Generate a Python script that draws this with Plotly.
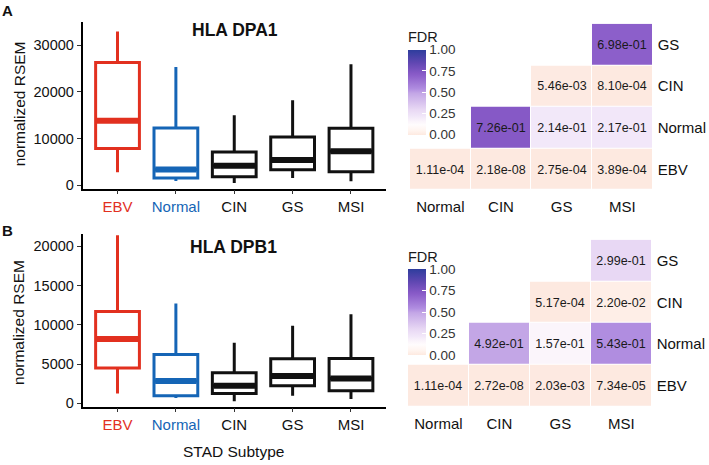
import plotly.graph_objects as go

W, H = 709, 465

# ---------------- data ----------------
subtypes = ["EBV", "Normal", "CIN", "GS", "MSI"]
box_colors = ["#e2301f", "#1565b6", "#111111", "#111111", "#111111"]

# HLA DPA1 box statistics
dpa1_lower = [2800, 900, 500, 1550, 850]
dpa1_q1 = [7850, 1550, 1850, 3300, 2900]
dpa1_median = [13800, 3400, 4200, 5400, 7300]
dpa1_q3 = [26300, 12250, 7150, 10350, 12200]
dpa1_upper = [32900, 25300, 15000, 18200, 25900]

# HLA DPB1 box statistics
dpb1_lower = [1250, 680, 250, 970, 550]
dpb1_q1 = [4500, 970, 1260, 2230, 1600]
dpb1_median = [8200, 2850, 2230, 3490, 3150]
dpb1_q3 = [11700, 6200, 3900, 5670, 5720]
dpb1_upper = [21400, 12700, 7700, 9870, 11340]

# FDR heatmaps
hm_x = ["Normal", "CIN", "GS", "MSI"]
hm_y = ["EBV", "Normal", "CIN", "GS"]
fdr_dpa1 = [
    [1.11e-04, 2.18e-08, 2.75e-04, 3.89e-04],
    [None, 7.26e-01, 2.14e-01, 2.17e-01],
    [None, None, 5.46e-03, 8.10e-04],
    [None, None, None, 6.98e-01],
]
fdr_dpb1 = [
    [1.11e-04, 2.72e-08, 2.03e-03, 7.34e-05],
    [None, 4.92e-01, 1.57e-01, 5.43e-01],
    [None, None, 5.17e-04, 2.20e-02],
    [None, None, None, 2.99e-01],
]

cbar_ticks = [0, 0.25, 0.5, 0.75, 1.0]
cbar_labels = ["0.00", "0.25", "0.50", "0.75", "1.00"]

fdr_scale = [
    [0.0, "#fde9e0"],
    [0.05, "#fff4ef"],
    [0.12, "#fffcfd"],
    [0.157, "#fbf5fb"],
    [0.214, "#f2e8f9"],
    [0.299, "#e8d8f4"],
    [0.492, "#c3a6e6"],
    [0.543, "#b08de0"],
    [0.698, "#8c5fca"],
    [0.726, "#8659c6"],
    [0.85, "#6047b2"],
    [1.0, "#2e3d9d"],
]

FONT = "Liberation Sans, Arial, sans-serif"


def px_x(p):
    return p / W


def px_y(p):
    return (H - p) / H


fig = go.Figure()

BOX_W = 0.75
positions = list(range(1, len(subtypes) + 1))


def add_boxes(lower, q1, med, q3, upper, xa, ya):
    for i, name in enumerate(subtypes):
        c = box_colors[i]
        fig.add_trace(go.Box(
            x=[positions[i]], lowerfence=[lower[i]], q1=[q1[i]], median=[med[i]],
            q3=[q3[i]], upperfence=[upper[i]], width=BOX_W, whiskerwidth=0,
            line=dict(color=c, width=3), fillcolor="rgba(255,255,255,0)",
            boxpoints=False, showlegend=False, hoverinfo="skip",
            xaxis=xa, yaxis=ya, name=name,
        ))
        fig.add_trace(go.Scatter(
            x=[positions[i] - BOX_W / 2 + 0.02, positions[i] + BOX_W / 2 - 0.02],
            y=[med[i], med[i]], mode="lines",
            line=dict(color=c, width=6), showlegend=False, hoverinfo="skip",
            xaxis=xa, yaxis=ya,
        ))


add_boxes(dpa1_lower, dpa1_q1, dpa1_median, dpa1_q3, dpa1_upper, "x", "y")
add_boxes(dpb1_lower, dpb1_q1, dpb1_median, dpb1_q3, dpb1_upper, "x2", "y2")


def fmt_matrix(m):
    return [["" if v is None else f"{v:.2e}" for v in row] for row in m]


def add_heatmap(z, xa, ya, cb_center_px, cb_len_px):
    fig.add_trace(go.Heatmap(
        x=hm_x, y=hm_y, z=z, text=fmt_matrix(z), texttemplate="%{text}",
        textfont=dict(size=12.5, color="#1a1a1a", family=FONT),
        colorscale=fdr_scale, zmin=0, zmax=1, xgap=1, ygap=1,
        hoverinfo="skip", xaxis=xa, yaxis=ya,
        colorbar=dict(
            x=px_x(408), xanchor="left", y=px_y(cb_center_px), yanchor="middle",
            len=cb_len_px / H, lenmode="fraction", thickness=18, thicknessmode="pixels",
            xpad=0, ypad=0, outlinewidth=0,
            tickvals=cbar_ticks, ticktext=cbar_labels,
            ticks="inside", ticklen=4, tickcolor="white", tickwidth=1,
            tickfont=dict(size=13.5, color="#333333", family=FONT),
            title=dict(text="FDR", side="top", font=dict(size=14.5, color="#1a1a1a", family=FONT)),
        ),
    ))


add_heatmap(fdr_dpa1, "x3", "y3", 82.5, 107)
add_heatmap(fdr_dpb1, "x4", "y4", 305.0, 108)

ticktext_box = [f'<span style="color:{c}">{s}</span>' for s, c in zip(subtypes, box_colors)]

box_x_common = dict(
    range=[0.4, 5.6], tickvals=positions, ticktext=ticktext_box,
    showline=True, linecolor="black", linewidth=1.5, ticks="outside", ticklen=4,
    tickcolor="#333", tickwidth=1, showgrid=False, zeroline=False,
    tickfont=dict(size=15, family=FONT, color="#111"),
)
box_y_common = dict(
    showline=True, linecolor="black", linewidth=1.5, ticks="outside", ticklen=4,
    tickcolor="#333", tickwidth=1, showgrid=False, zeroline=False, tickformat="d",
    tickfont=dict(size=14.5, family=FONT, color="#111"),
)
hm_x_common = dict(
    showline=False, ticks="", showgrid=False, zeroline=False, type="category",
    tickfont=dict(size=15, family=FONT, color="#111"), ticklabelstandoff=6,
)
hm_y_common = dict(
    showline=False, ticks="", showgrid=False, zeroline=False, type="category", side="right",
    tickfont=dict(size=15, family=FONT, color="#111"), ticklabelstandoff=4,
)

fig.update_layout(
    width=W, height=H, margin=dict(l=0, r=0, t=0, b=0),
    paper_bgcolor="white", plot_bgcolor="white",
    font=dict(family=FONT, color="#111"),
    xaxis=dict(domain=[px_x(82.5), px_x(386)], anchor="y", **box_x_common),
    yaxis=dict(domain=[px_y(190.7), px_y(22)], anchor="x", range=[-720, 35000],
               tickvals=[0, 10000, 20000, 30000], **box_y_common),
    xaxis2=dict(domain=[px_x(82.5), px_x(386)], anchor="y2", **box_x_common),
    yaxis2=dict(domain=[px_y(411), px_y(236.5)], anchor="x2", range=[-416, 21560],
                tickvals=[0, 5000, 10000, 15000, 20000], **box_y_common),
    xaxis3=dict(domain=[px_x(410), px_x(652.7)], anchor="y3", **hm_x_common),
    yaxis3=dict(domain=[px_y(192.3), px_y(24)], anchor="x3", **hm_y_common),
    xaxis4=dict(domain=[px_x(408), px_x(651.7)], anchor="y4", **hm_x_common),
    yaxis4=dict(domain=[px_y(411), px_y(242.3)], anchor="x4", **hm_y_common),
)

annotations = [
    dict(text="<b>A</b>", x=px_x(7), y=px_y(10.5), font=dict(size=15)),
    dict(text="<b>B</b>", x=px_x(7), y=px_y(233), font=dict(size=15)),
    dict(text="<b>HLA DPA1</b>", x=px_x(235), y=px_y(30), font=dict(size=17.5)),
    dict(text="<b>HLA DPB1</b>", x=px_x(233), y=px_y(250), font=dict(size=17.5)),
    dict(text="normalized RSEM", x=px_x(19), y=px_y(105.5), textangle=-90, font=dict(size=15.5)),
    dict(text="normalized RSEM", x=px_x(19), y=px_y(326.5), textangle=-90, font=dict(size=15.5)),
    dict(text="STAD Subtype", x=px_x(233), y=px_y(456.5), font=dict(size=15.5)),
]
for a in annotations:
    a.update(xref="paper", yref="paper", showarrow=False, xanchor="center", yanchor="middle")
    a["font"].update(family=FONT, color="#111")
fig.update_layout(annotations=annotations)

fig.write_html(
    "out.html",
    config={"displayModeBar": False},
    post_script="document.body.style.margin='0';document.body.style.overflow='hidden';",
)
